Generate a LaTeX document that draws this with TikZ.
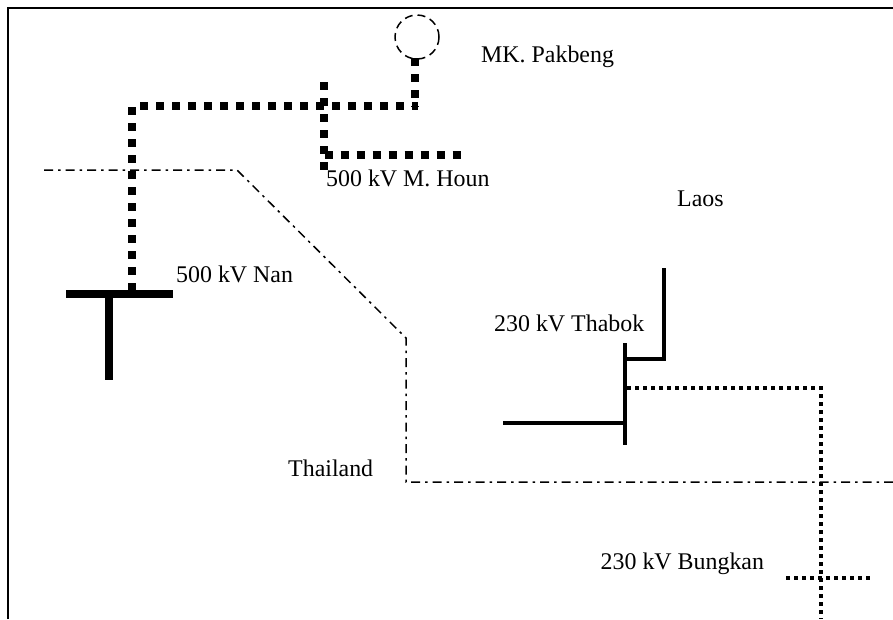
\documentclass[tikz,border=0pt]{standalone}
\usepackage{fontspec}
\setmainfont{Liberation Serif}
\usetikzlibrary{positioning, calc}

\begin{document}
\begin{tikzpicture}[
    x=1pt, y=-1pt,
    label/.style={anchor=base west, inner sep=0pt, font=\fontsize{23.9}{26}\selectfont},
    frameline/.style={line width=2pt},
    border/.style={line width=1.5pt, dash pattern=on 9pt off 5pt on 2.5pt off 5pt},
    bigline/.style={line width=8pt, dash pattern=on 8pt off 8pt},
    smallline/.style={line width=4pt, dash pattern=on 4pt off 4pt},
    bus/.style={line width=8pt},
    feeder/.style={line width=4pt}
]
    \useasboundingbox (0,0) rectangle (893,619);
    \fill[white] (0,0) rectangle (893,619);

    % Frame
    \draw[frameline] (8,619) -- (8,7.5) -- (893,7.5);

    % Labels
    \node[label] (pakbeng) at (481,62) {MK. Pakbeng};
    \node[label] (houn) at (326,186) {500 kV M. Houn};
    \node[label] (laos) at (677,206) {Laos};
    \node[label] (nan) at (176,282) {500 kV Nan};
    \node[label] (thabok) at (494,331) {230 kV Thabok};
    \node[label] (thailand) at (288,476) {Thailand};
    \node[label] (bungkan) at (600.5,569) {230 kV Bungkan};

    % Border
    \draw[border] (44,170) -- (237,170) -- (406,338) -- (406,482) -- (893,482);

    % 500 kV side
    \node[draw, circle, minimum size=44pt, inner sep=0pt, line width=1.5pt, dash pattern=on 8pt off 5pt] (plant) at (417,37) {};
    \coordinate (nanbusl) at (66,294);
    \coordinate (nanbusr) at (173,294);
    \coordinate (nantap) at (132,291);
    \coordinate (plantcorner) at (415,107);
    \draw[bus] (nanbusl) -- (nanbusr);
    \draw[bus] (109,294) -- (109,380);
    \draw[bigline] (415,58) -- (plantcorner);
    \draw[bigline] (140,106) -- (418,106);
    \draw[bigline] (132,107) -- (nantap);
    \draw[bigline] (324,82) -- (324,170);
    \draw[bigline] (324.5,155) -- (461,155);

    % 230 kV side
    \coordinate (thabokt) at (625,343);
    \coordinate (thabokb) at (625,445);
    \draw[feeder] (thabokt) -- (thabokb);
    \draw[feeder] (503,423) -- (625,423);
    \draw[feeder] (663.5,268) |- (625,359);
    \draw[smallline] (627,387.5) -| (820.5,619);
    \draw[smallline] (786,578) -- (871,578);
\end{tikzpicture}
\end{document}
